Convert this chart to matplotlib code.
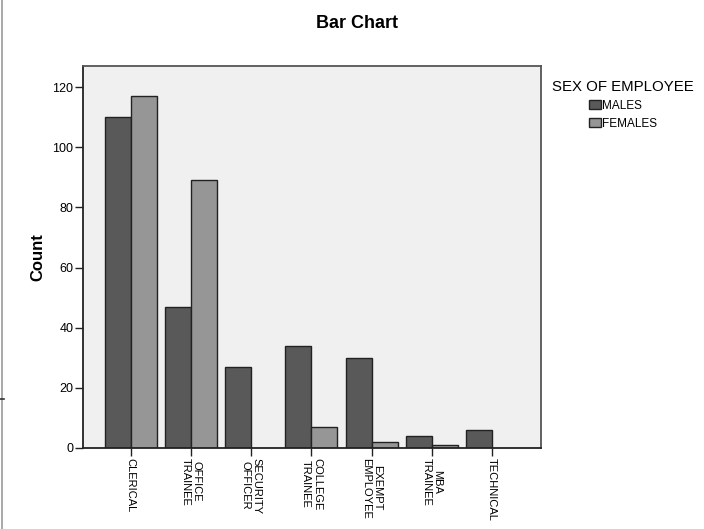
import matplotlib
matplotlib.use("Agg")
import matplotlib.pyplot as plt
import numpy as np
from matplotlib.lines import Line2D

categories = ["CLERICAL", "OFFICE\nTRAINEE", "SECURITY\nOFFICER", "COLLEGE\nTRAINEE",
              "EXEMPT\nEMPLOYEE", "MBA\nTRAINEE", "TECHNICAL"]
males = [110, 47, 27, 34, 30, 4, 6]
females = [117, 89, 0, 7, 2, 1, 0]
yticks = [0, 20, 40, 60, 80, 100, 120]

plt.rcParams['font.family'] = ['Liberation Sans', 'DejaVu Sans']

fig = plt.figure(figsize=(7.04, 5.29), dpi=100)
ax = fig.add_axes([83/704, 1-448/529, (541-83)/704, (448-66)/529])
ax.set_facecolor('#f0f0f0')

x = np.arange(len(categories))
w = 0.43
ax.bar(x - w/2, males, width=w, color='#595959', edgecolor='#222222', linewidth=1.0, label='MALES', zorder=2)
fem_x = [xi for xi, v in zip(x, females) if v > 0]
fem_v = [v for v in females if v > 0]
ax.bar(np.array(fem_x) + w/2, fem_v, width=w, color='#969696', edgecolor='#222222', linewidth=1.0, label='FEMALES', zorder=2)

ax.set_xlim(-0.79, 6.81)
ax.set_ylim(0, 127)
ax.set_yticks(yticks)
ax.set_xticks(x)
ax.set_xticklabels(categories, rotation=270, fontsize=8, va='top', ha='center', linespacing=1.15)
ax.tick_params(axis='x', direction='out', length=6, width=1, color='#222222', pad=1)
ax.tick_params(axis='y', direction='out', length=6, width=1, color='#222222', labelsize=9, pad=1)

for s in ax.spines.values():
    s.set_color('#555555')
    s.set_linewidth(1.3)
ax.spines['bottom'].set_color('#222222')
ax.spines['left'].set_color('#222222')

ax.set_ylabel('Count', fontsize=12, fontweight='bold', labelpad=5)

fig.text(0.507, 0.956, 'Bar Chart', ha='center', va='center', fontsize=13, fontweight='bold')

leg = ax.legend(loc='upper left', bbox_to_anchor=(547.6/704, 1-75/529), bbox_transform=fig.transFigure,
                frameon=False, title='SEX OF EMPLOYEE', title_fontsize=10.8, fontsize=8.5,
                handlelength=1.0, handleheight=0.8, handletextpad=0.12,
                labelspacing=0.52, borderaxespad=0)

fig.add_artist(Line2D([1.5/704, 1.5/704], [0, 1], transform=fig.transFigure, color='#999999', linewidth=1.2))
fig.add_artist(Line2D([0, 4/704], [1-399/529, 1-399/529], transform=fig.transFigure, color='#333333', linewidth=1.2))

fig.savefig('out.png', dpi=100)
